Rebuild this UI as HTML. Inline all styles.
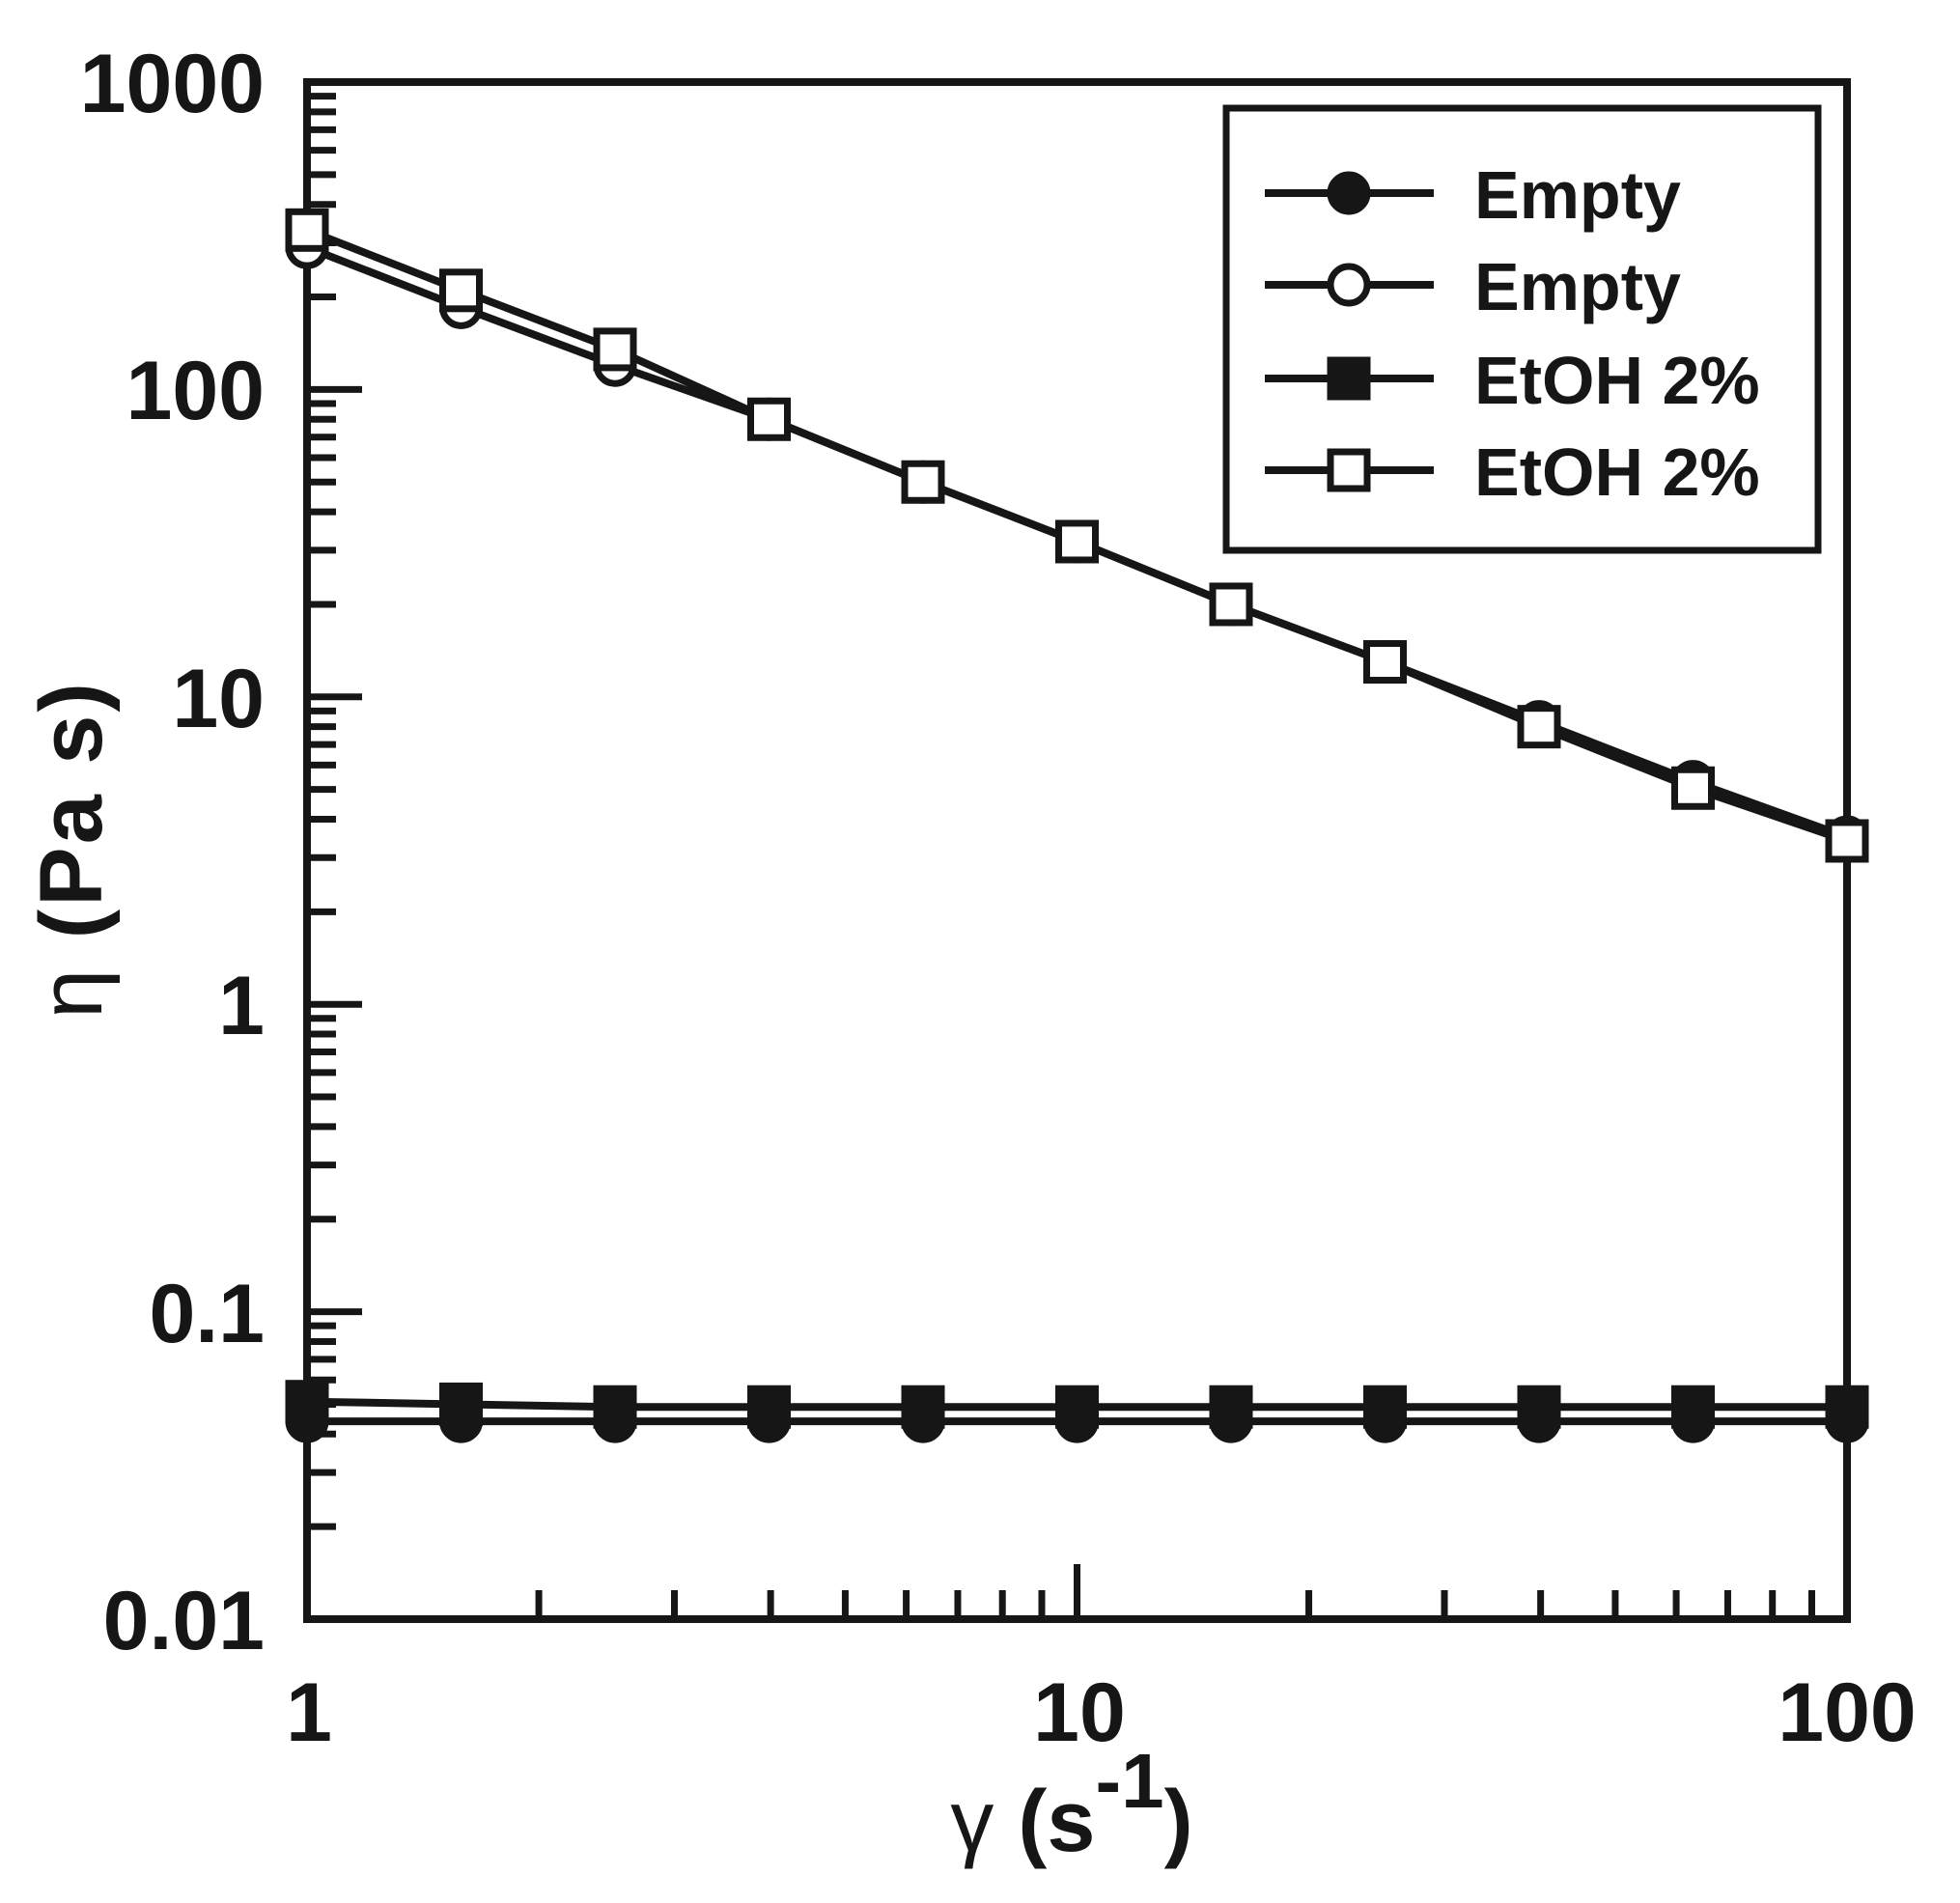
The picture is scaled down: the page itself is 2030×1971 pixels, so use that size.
<!DOCTYPE html>
<html><head><meta charset="utf-8"><style>html,body{margin:0;padding:0;background:#fff;}svg{display:block}</style></head>
<body>
<svg width="2030" height="1971" viewBox="0 0 2030 1971" xmlns="http://www.w3.org/2000/svg" font-family="Liberation Sans, Arial, sans-serif" fill="#161616">
<g stroke="#161616" stroke-width="7" fill="none" id="ticks"></g>
<rect x="318" y="85" width="1595" height="1592" fill="none" stroke="#161616" stroke-width="8"/>
<g id="data"></g>
<g font-weight="bold" font-size="86" text-anchor="end">
<text x="274" y="116">1000</text>
<text x="274" y="434">100</text>
<text x="274" y="753">10</text>
<text x="274" y="1071">1</text>
<text x="274" y="1390">0.1</text>
<text x="274" y="1708">0.01</text>
</g>
<g font-weight="bold" font-size="86" text-anchor="middle">
<text x="320" y="1803">1</text>
<text x="1118" y="1803">10</text>
<text x="1913" y="1803">100</text>
</g>
<text x="1110" y="1917" font-size="90" font-weight="bold" text-anchor="middle"><tspan font-weight="normal">γ</tspan> (s<tspan font-size="80" dy="-45">-1</tspan><tspan dy="45">)</tspan></text>
<text transform="translate(105,881) rotate(-90)" font-size="92" font-weight="bold" text-anchor="middle" textLength="348"><tspan font-weight="normal">η</tspan> (Pa s)</text>
<rect x="1270" y="112" width="613" height="458" fill="#fff" stroke="#161616" stroke-width="7"/>
<g id="leg"></g>
<g font-size="70" font-weight="bold">
<text x="1527" y="226">Empty</text>
<text x="1527" y="321">Empty</text>
<text x="1527" y="418">EtOH 2%</text>
<text x="1527" y="513">EtOH 2%</text>
</g>
<script>
var NS="http://www.w3.org/2000/svg";
function X(v){return 318+Math.log10(v)*797.5;}
function Y(v){return 85+(3-Math.log10(v))*318.4;}
function el(p,t,a){var e=document.createElementNS(NS,t);for(var k in a)e.setAttribute(k,a[k]);p.appendChild(e);return e;}
var tk=document.getElementById('ticks');
for(var d=-2;d<3;d++){for(var m=1;m<10;m++){var v=m*Math.pow(10,d);var y=Y(v);el(tk,'line',{x1:318,x2:318+(m==1?57:30),y1:y,y2:y});}}
for(var d=0;d<2;d++){for(var m=1;m<10;m++){var v=m*Math.pow(10,d);var x=X(v);if(x>1913)continue;el(tk,'line',{x1:x,x2:x,y1:1677,y2:1677-(m==1?57:30)});}}
var xs=[];for(var i=0;i<=10;i++)xs.push(Math.pow(10,i*0.2));
var oc=[290,185,120,80,50,32,20,13,8.3,5.3,3.5];
var os=[330,210,135,80,50,32,20,13,8,5.05,3.4];
var fs=[0.051,0.05,0.049,0.049,0.049,0.049,0.049,0.049,0.049,0.049,0.049];
var fc=[0.044,0.044,0.044,0.044,0.044,0.044,0.044,0.044,0.044,0.044,0.044];
var g=document.getElementById('data');
function series(vals,type,fill){var pts=xs.map(function(x,i){return X(x)+','+Y(vals[i]);}).join(' ');
el(g,'polyline',{points:pts,fill:'none',stroke:'#161616','stroke-width':8});
xs.forEach(function(x,i){marker(g,X(x),Y(vals[i]),type,fill);});}
function marker(p,x,y,type,fill){var a={fill:fill?'#161616':'#fff',stroke:'#161616','stroke-width':7};
if(type=='c'){a.cx=x;a.cy=y;a.r=19;el(p,'circle',a);}else{a.x=x-19;a.y=y-19;a.width=38;a.height=38;el(p,'rect',a);}}
series(fc,'c',true);series(fs,'s',true);series(oc,'c',false);series(os,'s',false);
var lg=document.getElementById('leg');
[[200,'c',true],[295,'c',false],[392,'s',true],[487,'s',false]].forEach(function(r){
el(lg,'line',{x1:1310,x2:1485,y1:r[0],y2:r[0],stroke:'#161616','stroke-width':8});marker(lg,1397,r[0],r[1],r[2]);});
</script>
</svg>
</body></html>
